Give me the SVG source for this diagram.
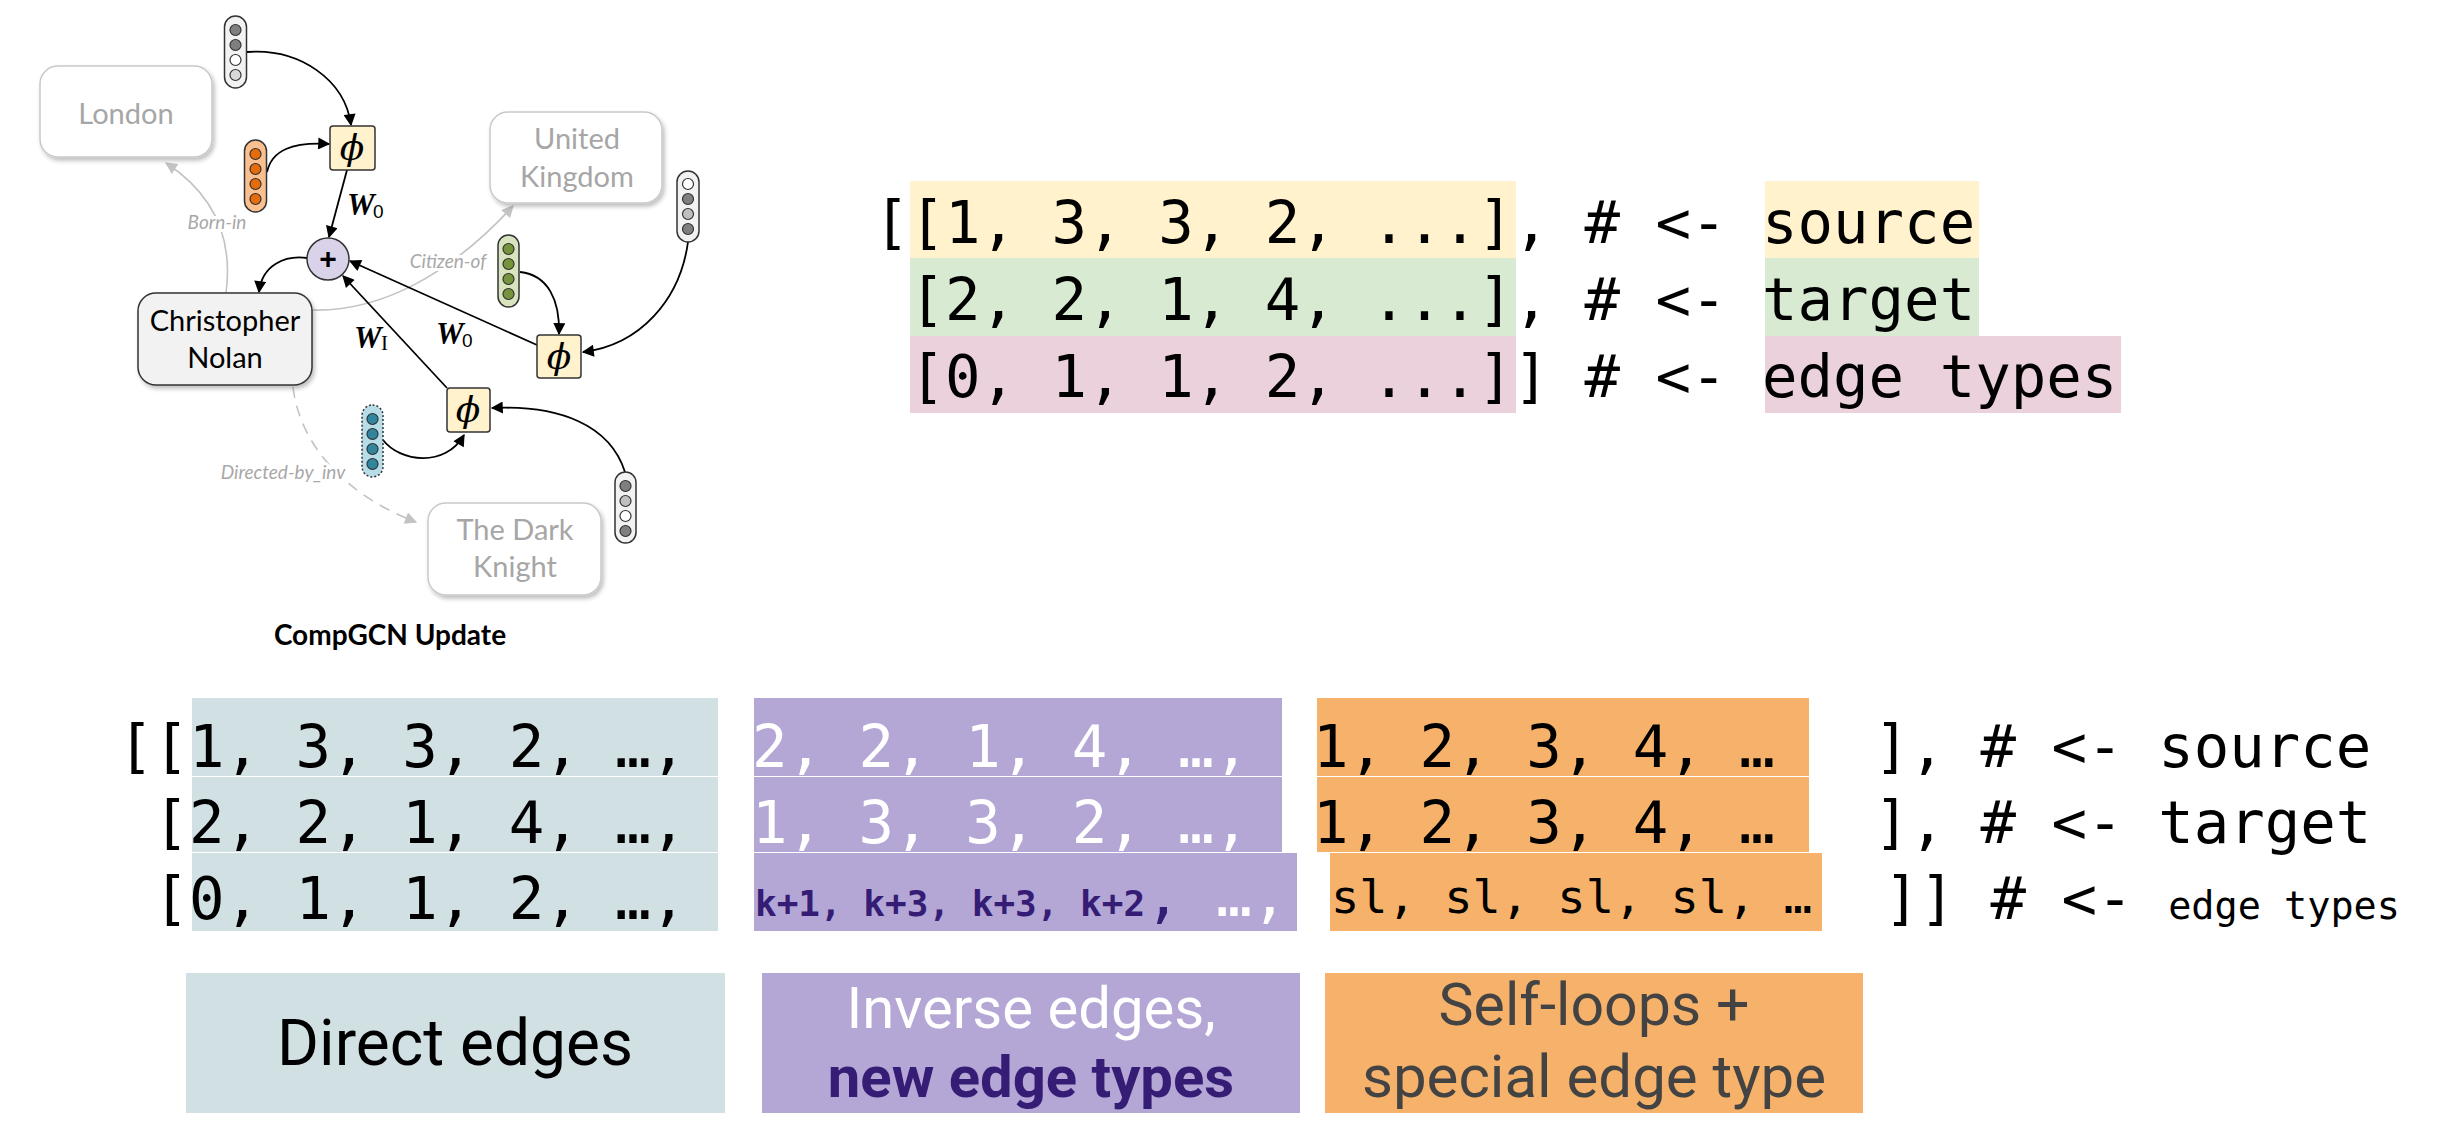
<svg xmlns="http://www.w3.org/2000/svg" width="2438" height="1142" viewBox="0 0 2438 1142">
<style>
.ent{font-family:Lato,"Open Sans",sans-serif;font-size:29px;text-anchor:middle}
.ghost{fill:#ffffff;stroke:#c9c9c9;stroke-width:1.5}
.ghostt{fill:#a6a6a6}
.elab{font-family:Lato,"Open Sans",sans-serif;font-style:italic;font-size:19px;fill:#a8a8a8;text-anchor:middle;stroke:#ffffff;stroke-width:6px;paint-order:stroke}
.pill{stroke:#333333;stroke-width:1.5}
.dot{stroke:#333333;stroke-width:1.2}
.phi{fill:#fff2cc;stroke:#333333;stroke-width:1.5}
.phit{font-family:"DejaVu Serif",serif;font-style:italic;font-size:36px;text-anchor:middle;fill:#000}
.w{font-family:"Liberation Serif",serif;font-weight:bold;font-style:italic;font-size:31px;fill:#000}
.ws{font-family:"Liberation Sans",sans-serif;font-size:19px;fill:#000}
.wsi{font-family:"Liberation Serif",serif;font-size:21px;fill:#000}
.blk{fill:none;stroke:#000;stroke-width:1.8}
.lite{fill:none;stroke:#c3c3c3;stroke-width:1.6}
.code{font-family:"DejaVu Sans Mono",monospace;font-size:59px;fill:#000}
.cap{font-family:Roboto,"Liberation Sans",sans-serif;text-anchor:middle}
</style>
<defs>
<marker id="ab" viewBox="0 0 10 10" refX="9" refY="5" markerWidth="14" markerHeight="12" markerUnits="userSpaceOnUse" orient="auto"><path d="M0,0 L10,5 L0,10 z" fill="#000"/></marker>
<marker id="ag" viewBox="0 0 10 10" refX="9" refY="5" markerWidth="14" markerHeight="12" markerUnits="userSpaceOnUse" orient="auto"><path d="M0,0 L10,5 L0,10 z" fill="#c3c3c3"/></marker>
<filter id="sh" x="-20%" y="-20%" width="140%" height="150%"><feDropShadow dx="2" dy="3" stdDeviation="2" flood-color="#000" flood-opacity="0.25"/></filter>
</defs>
<rect width="2438" height="1142" fill="#ffffff"/>

<g id="connectors">
<path class="lite" d="M226,293 C233,240 215,195 166,163" marker-end="url(#ag)"/>
<path class="lite" d="M312,310 C380,312 450,275 513,206" marker-end="url(#ag)"/>
<path class="lite" d="M293,387 C300,445 345,495 416,522" stroke-dasharray="11,8" marker-end="url(#ag)"/>
<path class="blk" d="M247,52 C300,48 345,80 351,125" marker-end="url(#ab)"/>
<path class="blk" d="M267,172 C272,150 292,142 329,144" marker-end="url(#ab)"/>
<path class="blk" d="M347,170 L329,237" marker-end="url(#ab)"/>
<path class="blk" d="M307,258 C285,255 262,265 259,292" marker-end="url(#ab)"/>
<path class="blk" d="M537,345 L350,261" marker-end="url(#ab)"/>
<path class="blk" d="M447,388 L343,276" marker-end="url(#ab)"/>
<path class="blk" d="M688,242 C680,300 640,345 583,352" marker-end="url(#ab)"/>
<path class="blk" d="M520,272 C548,275 560,300 559,334" marker-end="url(#ab)"/>
<path class="blk" d="M625,472 C610,425 560,405 492,408" marker-end="url(#ab)"/>
<path class="blk" d="M383,440 C400,462 445,468 464,435" marker-end="url(#ab)"/>
</g>

<g id="edge-labels">
<text class="elab" x="217" y="229">Born-in</text>
<text class="elab" x="448" y="268">Citizen-of</text>
<text class="elab" x="283" y="479">Directed-by_inv</text>
</g>

<g id="london"><rect class="ghost" x="40" y="66" width="172" height="91" rx="18" filter="url(#sh)"/><text class="ent ghostt" x="126" y="124">London</text></g>
<g id="united-kingdom"><rect class="ghost" x="490" y="112" width="172" height="91" rx="18" filter="url(#sh)"/><text class="ent ghostt" x="577" y="149">United</text><text class="ent ghostt" x="577" y="187">Kingdom</text></g>
<g id="christopher-nolan"><rect x="138" y="293" width="174" height="92" rx="18" fill="#f2f2f2" stroke="#333" stroke-width="1.5" filter="url(#sh)"/><text class="ent" x="225" y="331" fill="#000">Christopher</text><text class="ent" x="225" y="368" fill="#000">Nolan</text></g>
<g id="dark-knight"><rect class="ghost" x="428" y="503" width="173" height="92" rx="18" filter="url(#sh)"/><text class="ent ghostt" x="515" y="540">The Dark</text><text class="ent ghostt" x="515" y="577">Knight</text></g>

<g id="vec-top"><rect class="pill" x="224.5" y="16" width="22" height="72" rx="11" fill="#f2f2f2"/><circle class="dot" cx="235.5" cy="30" r="5.5" fill="#7f7f7f"/><circle class="dot" cx="235.5" cy="45" r="5.5" fill="#7f7f7f"/><circle class="dot" cx="235.5" cy="60" r="5.5" fill="#ffffff"/><circle class="dot" cx="235.5" cy="75" r="5.5" fill="#d9d9d9"/></g>
<g id="vec-orange"><rect class="pill" x="244.5" y="140" width="22" height="72" rx="11" fill="#fac090"/><circle class="dot" cx="255.5" cy="154" r="5.5" fill="#e46c0a"/><circle class="dot" cx="255.5" cy="169" r="5.5" fill="#e46c0a"/><circle class="dot" cx="255.5" cy="184" r="5.5" fill="#e46c0a"/><circle class="dot" cx="255.5" cy="199" r="5.5" fill="#e46c0a"/></g>
<g id="vec-right"><rect class="pill" x="677" y="171" width="22" height="71" rx="11" fill="#f2f2f2"/><circle class="dot" cx="688" cy="184" r="5.5" fill="#ffffff"/><circle class="dot" cx="688" cy="199" r="5.5" fill="#7f7f7f"/><circle class="dot" cx="688" cy="214" r="5.5" fill="#bfbfbf"/><circle class="dot" cx="688" cy="229" r="5.5" fill="#7f7f7f"/></g>
<g id="vec-green"><rect class="pill" x="498" y="235" width="21" height="72" rx="10.5" fill="#d7e4bd"/><circle class="dot" cx="508.5" cy="249" r="5.5" fill="#77933c"/><circle class="dot" cx="508.5" cy="264" r="5.5" fill="#77933c"/><circle class="dot" cx="508.5" cy="279" r="5.5" fill="#77933c"/><circle class="dot" cx="508.5" cy="294" r="5.5" fill="#77933c"/></g>
<g id="vec-blue"><rect class="pill" x="362" y="405" width="21" height="72" rx="10.5" fill="#b7dee8" stroke-dasharray="2,2"/><circle class="dot" cx="372.5" cy="419" r="5.5" fill="#31859c"/><circle class="dot" cx="372.5" cy="434" r="5.5" fill="#31859c"/><circle class="dot" cx="372.5" cy="449" r="5.5" fill="#31859c"/><circle class="dot" cx="372.5" cy="464" r="5.5" fill="#31859c"/></g>
<g id="vec-bottom"><rect class="pill" x="615" y="472" width="21" height="71" rx="10.5" fill="#f2f2f2"/><circle class="dot" cx="625.5" cy="486" r="5.5" fill="#7f7f7f"/><circle class="dot" cx="625.5" cy="501" r="5.5" fill="#bfbfbf"/><circle class="dot" cx="625.5" cy="516" r="5.5" fill="#ffffff"/><circle class="dot" cx="625.5" cy="531" r="5.5" fill="#7f7f7f"/></g>

<g id="phi-top"><rect class="phi" x="330" y="126" width="45" height="44" rx="3"/><text class="phit" x="352" y="160">ϕ</text></g>
<g id="phi-right"><rect class="phi" x="537" y="335" width="44" height="43" rx="3"/><text class="phit" x="559" y="369">ϕ</text></g>
<g id="phi-bottom"><rect class="phi" x="447" y="388" width="43" height="44" rx="3"/><text class="phit" x="468" y="422">ϕ</text></g>
<g id="plus"><circle cx="328" cy="259" r="21" fill="#d9d2e9" stroke="#333" stroke-width="1.5"/><text x="328" y="269" font-family="Liberation Sans,sans-serif" font-weight="bold" font-size="30" text-anchor="middle">+</text></g>

<g id="weights">
<text class="w" x="347" y="215">W</text><text class="ws" x="373" y="218">0</text>
<text class="w" x="436" y="344">W</text><text class="ws" x="462" y="347">0</text>
<text class="w" x="354" y="348">W</text><text class="wsi" x="381" y="350">I</text>
</g>
<text id="caption" x="390" y="645" font-family="Lato,'Open Sans',sans-serif" font-weight="bold" font-size="28" text-anchor="middle">CompGCN Update</text>

<g id="code-top">
<rect x="910" y="181" width="606" height="77" fill="#fff2cc"/>
<rect x="910" y="258" width="606" height="78" fill="#d9ead3"/>
<rect x="910" y="336" width="606" height="77" fill="#ead1dc"/>
<rect x="1765" y="181" width="214" height="77" fill="#fff2cc"/>
<rect x="1765" y="258" width="214" height="78" fill="#d9ead3"/>
<rect x="1765" y="336" width="356" height="77" fill="#ead1dc"/>
<text class="code" x="874" y="243" xml:space="preserve">[[1, 3, 3, 2, ...], # &lt;- source</text>
<text class="code" x="874" y="320" xml:space="preserve"> [2, 2, 1, 4, ...], # &lt;- target</text>
<text class="code" x="874" y="397" xml:space="preserve"> [0, 1, 1, 2, ...]] # &lt;- edge types</text>
</g>

<g id="code-bottom">
<rect x="192" y="698" width="526" height="78" fill="#d0e0e3"/>
<rect x="192" y="777" width="526" height="75" fill="#d0e0e3"/>
<rect x="192" y="853" width="526" height="78" fill="#d0e0e3"/>
<rect x="754" y="698" width="528" height="78" fill="#b4a7d6"/>
<rect x="754" y="777" width="528" height="75" fill="#b4a7d6"/>
<rect x="754" y="853" width="543" height="78" fill="#b4a7d6"/>
<rect x="1317" y="698" width="492" height="78" fill="#f6b26b"/>
<rect x="1317" y="777" width="492" height="75" fill="#f6b26b"/>
<rect x="1330" y="853" width="492" height="78" fill="#f6b26b"/>
<text class="code" x="118" y="767" xml:space="preserve">[[1, 3, 3, 2, …,</text>
<text class="code" x="118" y="843" xml:space="preserve"> [2, 2, 1, 4, …,</text>
<text class="code" x="118" y="919" xml:space="preserve"> [0, 1, 1, 2, …,</text>
<text class="code" x="752" y="767" style="fill:#ffffff" xml:space="preserve">2, 2, 1, 4, …,</text>
<text class="code" x="752" y="843" style="fill:#ffffff" xml:space="preserve">1, 3, 3, 2, …,</text>
<text x="755" y="916" font-family="DejaVu Sans Mono,monospace" font-weight="bold" font-size="36" fill="#351c75" xml:space="preserve">k+1, k+3, k+3, k+2<tspan font-size="59" font-weight="normal">,</tspan><tspan font-size="59" font-weight="normal" fill="#ffffff"> …,</tspan></text>
<text class="code" x="1313" y="767" xml:space="preserve">1, 2, 3, 4, …</text>
<text class="code" x="1313" y="843" xml:space="preserve">1, 2, 3, 4, …</text>
<text x="1331" y="913" font-family="DejaVu Sans Mono,monospace" font-size="47" xml:space="preserve">sl, sl, sl, sl, …</text>
<text class="code" x="1874" y="767" xml:space="preserve">], # &lt;- source</text>
<text class="code" x="1874" y="843" xml:space="preserve">], # &lt;- target</text>
<text class="code" x="1884" y="919" xml:space="preserve">]] # &lt;- <tspan font-size="38.5">edge types</tspan></text>
</g>

<g id="legend-direct"><rect x="186" y="973" width="539" height="140" fill="#d0e0e3"/><text class="cap" x="455" y="1065" font-size="64" fill="#000">Direct edges</text></g>
<g id="legend-inverse"><rect x="762" y="973" width="538" height="140" fill="#b4a7d6"/><text class="cap" x="1031" y="1028" font-size="58" fill="#ffffff">Inverse edges,</text><text class="cap" x="1031" y="1097" font-size="58" fill="#351c75" font-weight="bold">new edge types</text></g>
<g id="legend-self"><rect x="1325" y="973" width="538" height="140" fill="#f6b26b"/><text class="cap" x="1594" y="1025" font-size="59" fill="#434343">Self-loops +</text><text class="cap" x="1594" y="1097" font-size="60" fill="#434343">special edge type</text></g>
</svg>
